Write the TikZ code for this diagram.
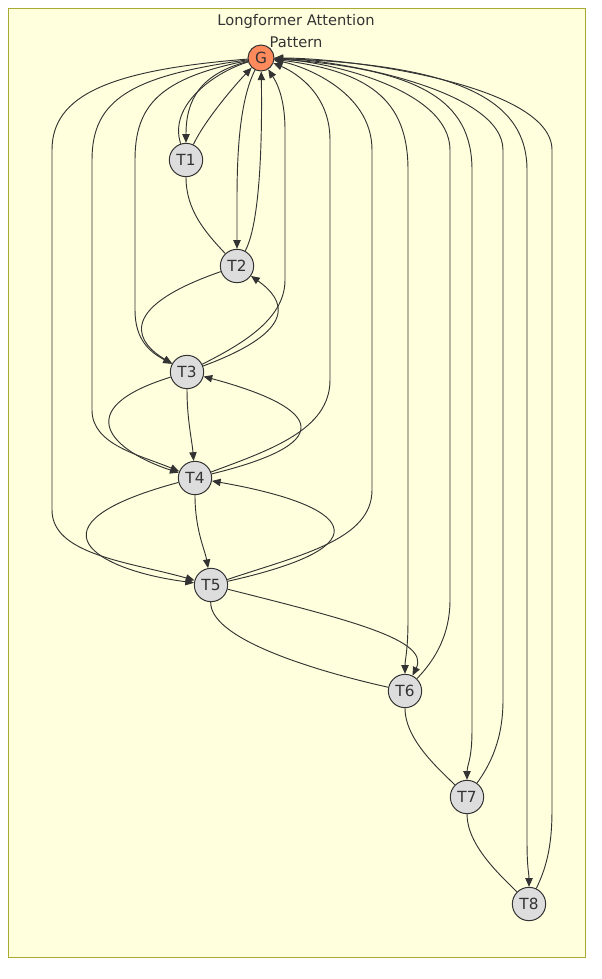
\documentclass[tikz,border=0pt]{standalone}
\usepackage{fontspec}
\setmainfont{DejaVu Sans}
\usetikzlibrary{arrows.meta}
\definecolor{clusterfill}{HTML}{FFFFDE}
\definecolor{clusterline}{HTML}{AAAA33}
\definecolor{globfill}{HTML}{FF8A5C}
\definecolor{tokfill}{HTML}{DDDDDD}
\definecolor{ink}{HTML}{333333}

\begin{document}
\begin{tikzpicture}[x=0.75pt,y=-0.75pt,
		tok/.style={circle,draw=ink,fill=tokfill,line width=0.75pt,minimum size=25pt,inner sep=0pt,text=ink,font=\fontsize{11.5}{13}\selectfont},
		glob/.style={tok,fill=globfill,minimum size=19.5pt},
		link/.style={draw=ink,line width=0.7pt},
		arr/.style={link,-{Triangle[length=6.5pt,width=5.5pt]}}]
		\useasboundingbox (0,0) rectangle (602,979);
		\draw[fill=clusterfill,draw=clusterline,line width=0.75pt] (8,8) rectangle (585,957);
		\node[align=center,text=ink,font=\fontsize{11}{17}\selectfont] (title) at (296,31) {Longformer Attention\\Pattern};
		% nodes
		\node[glob] (G)  at (261,58)  {G};
		\node[tok]  (T1) at (186,160) {T1};
		\node[tok]  (T2) at (237,266) {T2};
		\node[tok]  (T3) at (187,372) {T3};
		\node[tok]  (T4) at (195,478) {T4};
		\node[tok]  (T5) at (211,585) {T5};
		\node[tok]  (T6) at (405,691) {T6};
		\node[tok]  (T7) at (467,797) {T7};
		\node[tok]  (T8) at (529,904) {T8};
		% global token to every token
		\draw[arr] (G) .. controls (110,70) and (52,95) .. (52,150) -- (52,510) .. controls (52,555) and (130,562) .. (T5);
		\draw[arr] (G) .. controls (130,76) and (92,100) .. (92,160) -- (92,410) .. controls (92,445) and (140,455) .. (T4);
		\draw[arr] (G) .. controls (160,78) and (135,105) .. (135,160) -- (135,310) .. controls (135,340) and (150,352) .. (T3);
		\draw[arr] (G) .. controls (200,74) and (186,100) .. (T1);
		\draw[arr] (G) .. controls (240,100) and (237,150) .. (237,200) -- (T2);
		\draw[arr] (G) .. controls (370,70) and (408,100) .. (408,170) -- (408,620) .. controls (408,650) and (405,660) .. (T6);
		\draw[arr] (G) .. controls (420,68) and (472,100) .. (472,170) -- (472,730) .. controls (472,760) and (467,765) .. (T7);
		\draw[arr] (G) .. controls (460,64) and (527,100) .. (527,170) -- (527,840) .. controls (527,870) and (529,872) .. (T8);
		% every token back to the global token
		\draw[link] (T1) .. controls (168,105) and (215,72) .. (G);
		\draw[arr] (T1) .. controls (205,120) and (235,85) .. (G);
		\draw[arr] (T2) .. controls (262,220) and (262,120) .. (G);
		\draw[arr] (T3) .. controls (240,345) and (285,320) .. (285,280) -- (285,130) .. controls (285,95) and (275,80) .. (G);
		\draw[arr] (T4) .. controls (270,450) and (330,430) .. (330,380) -- (330,140) .. controls (330,90) and (290,70) .. (G);
		\draw[arr] (T5) .. controls (300,555) and (372,540) .. (372,490) -- (372,150) .. controls (372,90) and (300,65) .. (G);
		\draw[arr] (T6) .. controls (430,665) and (450,640) .. (450,600) -- (450,150) .. controls (450,90) and (330,62) .. (G);
		\draw[arr] (T7) .. controls (490,765) and (503,740) .. (503,700) -- (503,150) .. controls (503,90) and (340,60) .. (G);
		\draw[arr] (T8) .. controls (545,870) and (552,850) .. (552,810) -- (552,150) .. controls (552,85) and (350,58) .. (G);
		% sliding window
		\draw[link] (T1) .. controls (186,210) and (205,232) .. (T2);
		\draw[arr] (T2) .. controls (110,310) and (140,345) .. (T3);
		\draw[arr] (T3) .. controls (300,330) and (285,300) .. (T2);
		\draw[arr] (T3) .. controls (187,420) and (192,440) .. (T4);
		\draw[arr] (T3) .. controls (65,410) and (115,452) .. (T4);
		\draw[arr] (T4) .. controls (350,440) and (310,405) .. (T3);
		\draw[arr] (T4) .. controls (195,530) and (205,550) .. (T5);
		\draw[arr] (T4) .. controls (20,525) and (95,570) .. (T5);
		\draw[arr] (T5) .. controls (390,545) and (350,505) .. (T4);
		\draw[arr] (T5) .. controls (350,620) and (430,640) .. (T6);
		\draw[link] (T5) .. controls (210,640) and (320,672) .. (T6);
		\draw[link] (T6) .. controls (405,740) and (440,770) .. (T7);
		\draw[link] (T7) .. controls (467,845) and (500,875) .. (T8);
	\end{tikzpicture}
\end{document}
